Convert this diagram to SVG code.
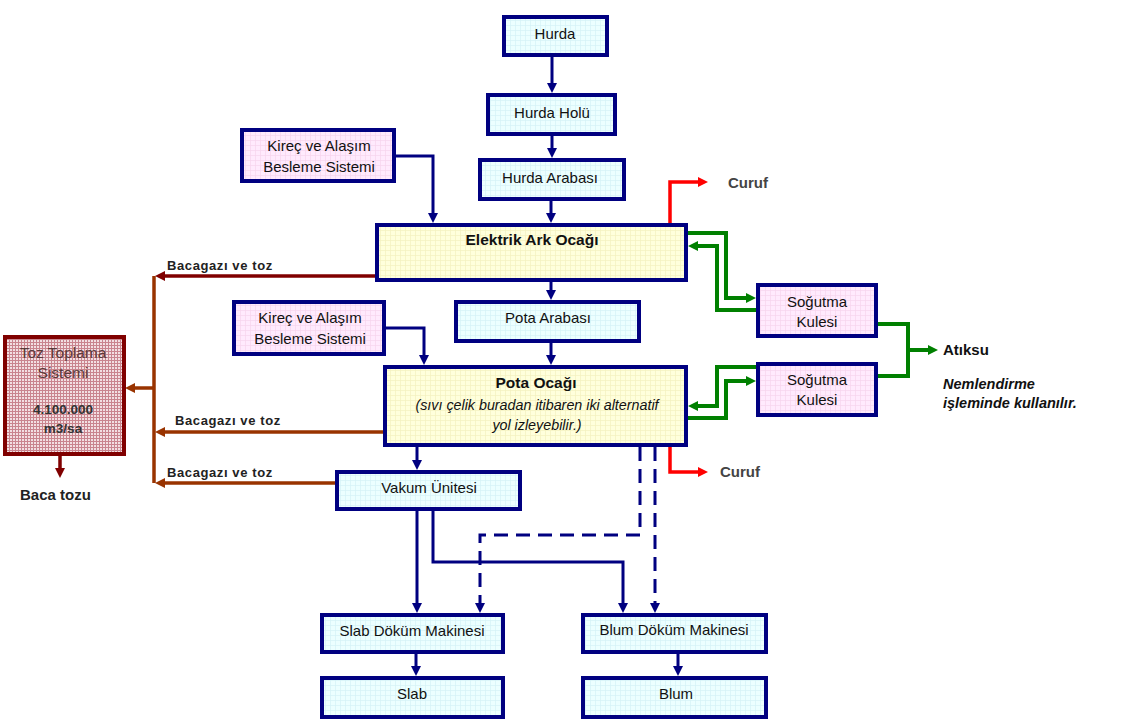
<svg xmlns="http://www.w3.org/2000/svg" width="1121" height="720" viewBox="0 0 1121 720">
<defs>
<pattern id="pc" width="5" height="5" patternUnits="userSpaceOnUse"><rect width="5" height="5" fill="#ecffff"/><path d="M0,0.5H5M0.5,0V5" stroke="#d6f2f6" stroke-width="0.7"/></pattern>
<pattern id="pp" width="5" height="5" patternUnits="userSpaceOnUse"><rect width="5" height="5" fill="#ffeafd"/><path d="M0,0.5H5M0.5,0V5" stroke="#f6d4ee" stroke-width="0.7"/></pattern>
<pattern id="py" width="5" height="5" patternUnits="userSpaceOnUse"><rect width="5" height="5" fill="#ffffdc"/><path d="M0,0.5H5M0.5,0V5" stroke="#f3f1c0" stroke-width="0.7"/></pattern>
<pattern id="pt" width="3" height="3" patternUnits="userSpaceOnUse"><rect width="3" height="3" fill="#f2dfe2"/><path d="M0,0.5H3M0.5,0V3" stroke="#c9848e" stroke-width="1"/></pattern>
<marker id="an" viewBox="0 0 10 10" refX="4" refY="5" markerWidth="10" markerHeight="10" markerUnits="userSpaceOnUse" orient="auto"><path d="M0,0L10,5L0,10z" fill="#000080"/></marker>
<marker id="ag" viewBox="0 0 10 10" refX="4" refY="5" markerWidth="10" markerHeight="10" markerUnits="userSpaceOnUse" orient="auto"><path d="M0,0L10,5L0,10z" fill="#008000"/></marker>
<marker id="ar" viewBox="0 0 10 10" refX="4" refY="5" markerWidth="10" markerHeight="10" markerUnits="userSpaceOnUse" orient="auto"><path d="M0,0L10,5L0,10z" fill="#ff0000"/></marker>
<marker id="ab" viewBox="0 0 10 10" refX="4" refY="5" markerWidth="10" markerHeight="10" markerUnits="userSpaceOnUse" orient="auto"><path d="M0,0L10,5L0,10z" fill="#993300"/></marker>
<marker id="am" viewBox="0 0 10 10" refX="4" refY="5" markerWidth="10" markerHeight="10" markerUnits="userSpaceOnUse" orient="auto"><path d="M0,0L10,5L0,10z" fill="#800000"/></marker>
</defs>
<style>
.bx{stroke:#000080;stroke-width:4}
.c{fill:url(#pc)}.p{fill:url(#pp)}.y{fill:url(#py)}
text{font-family:"Liberation Sans",Arial,sans-serif;fill:#111}
.t{font-size:15px;text-anchor:middle}
.tb{font-size:15.5px;font-weight:bold;text-anchor:middle}
.ti{font-size:14.3px;font-style:italic;text-anchor:middle}
.lb{font-size:13px;font-weight:bold;letter-spacing:0.6px;fill:#222}
.cu{font-size:15px;font-weight:bold;fill:#444}
.nv{fill:none;stroke:#000080;stroke-width:3}
.gr{fill:none;stroke:#008000;stroke-width:4}
.rd{fill:none;stroke:#ff0000;stroke-width:3.5}
.br{fill:none;stroke:#993300;stroke-width:3.5}
.mr{fill:none;stroke:#800000;stroke-width:3.5}
</style>
<g id="connectors">
<path class="nv" d="M552,57V87" marker-end="url(#an)"/>
<path class="nv" d="M552,136V152" marker-end="url(#an)"/>
<path class="nv" d="M551,201V217" marker-end="url(#an)"/>
<path class="nv" d="M396,156H433V217" marker-end="url(#an)"/>
<path class="nv" d="M551,282V294" marker-end="url(#an)"/>
<path class="nv" d="M551,343V359" marker-end="url(#an)"/>
<path class="nv" d="M386,328H424V359" marker-end="url(#an)"/>
<path class="nv" d="M417,447V464" marker-end="url(#an)"/>
<path class="nv" d="M417,511V607" marker-end="url(#an)"/>
<path class="nv" d="M433,511V562H623V607" marker-end="url(#an)"/>
<path class="nv" d="M640,447V535H480V607" stroke-dasharray="14 8" marker-end="url(#an)"/>
<path class="nv" d="M655,447V607" stroke-dasharray="14 8" marker-end="url(#an)"/>
<path class="nv" d="M416,654V670" marker-end="url(#an)"/>
<path class="nv" d="M678,654V670" marker-end="url(#an)"/>
<path class="gr" d="M688,233H726V298H750" marker-end="url(#ag)"/>
<path class="gr" d="M756,310H717V246H694" marker-end="url(#ag)"/>
<path class="gr" d="M878,324H908V376H878"/>
<path class="gr" d="M908,350H932" marker-end="url(#ag)"/>
<path class="gr" d="M756,367H717V406H694" marker-end="url(#ag)"/>
<path class="gr" d="M688,418H726V381H750" marker-end="url(#ag)"/>
<path class="rd" d="M670,223V182H702" marker-end="url(#ar)"/>
<path class="rd" d="M670,447V472H702" marker-end="url(#ar)"/>
<path class="mr" d="M375,276H161" marker-end="url(#am)"/>
<path class="br" d="M154,276V483"/>
<path class="br" d="M383,432H161" marker-end="url(#ab)"/>
<path class="br" d="M335,483H161" marker-end="url(#ab)"/>
<path class="br" d="M154,388H131" marker-end="url(#ab)"/>
<path class="mr" d="M60,456V472" marker-end="url(#am)"/>
</g>
<g id="hurda"><rect class="bx c" x="504" y="17" width="103" height="38"/><text class="t" x="555" y="39">Hurda</text></g>
<g id="hurda-holu"><rect class="bx c" x="488" y="95" width="127" height="39"/><text class="t" x="552" y="118">Hurda Holü</text></g>
<g id="hurda-arabasi"><rect class="bx c" x="480" y="160" width="144" height="39"/><text class="t" x="550" y="183">Hurda Arabası</text></g>
<g id="kirec1"><rect class="bx p" x="242" y="130" width="152" height="51"/><text class="t" x="319" y="151">Kireç ve Alaşım</text><text class="t" x="319" y="172">Besleme Sistemi</text></g>
<g id="eaf"><rect class="bx y" x="377" y="225" width="309" height="55"/><text class="tb" x="532" y="245">Elektrik Ark Ocağı</text></g>
<g id="pota-arabasi"><rect class="bx c" x="456" y="302" width="183" height="39"/><text class="t" x="548" y="323">Pota Arabası</text></g>
<g id="kirec2"><rect class="bx p" x="234" y="302" width="150" height="52"/><text class="t" x="310" y="323">Kireç ve Alaşım</text><text class="t" x="310" y="344">Besleme Sistemi</text></g>
<g id="pota-ocagi"><rect class="bx y" x="385" y="367" width="301" height="78"/><text class="tb" x="536" y="388">Pota Ocağı</text><text class="ti" x="537" y="410">(sıvı çelik buradan itibaren iki alternatif</text><text class="ti" x="537" y="430">yol izleyebilir.)</text></g>
<g id="vakum"><rect class="bx c" x="337" y="472" width="183" height="37"/><text class="t" x="429" y="493">Vakum Ünitesi</text></g>
<g id="slab-dm"><rect class="bx c" x="322" y="615" width="181" height="37"/><text class="t" x="412" y="636">Slab Döküm Makinesi</text></g>
<g id="slab"><rect class="bx c" x="322" y="678" width="181" height="39"/><text class="t" x="412" y="699">Slab</text></g>
<g id="blum-dm"><rect class="bx c" x="583" y="615" width="183" height="37"/><text class="t" x="674" y="635">Blum Döküm Makinesi</text></g>
<g id="blum"><rect class="bx c" x="583" y="678" width="183" height="39"/><text class="t" x="676" y="699">Blum</text></g>
<g id="sogutma1"><rect class="bx p" x="758" y="285" width="118" height="51"/><text class="t" x="817" y="307">Soğutma</text><text class="t" x="817" y="327">Kulesi</text></g>
<g id="sogutma2"><rect class="bx p" x="758" y="364" width="118" height="51"/><text class="t" x="817" y="385">Soğutma</text><text class="t" x="817" y="405">Kulesi</text></g>
<g id="toz"><rect x="5" y="337" width="119" height="117" fill="url(#pt)" stroke="#800000" stroke-width="4"/><text class="t" x="63" y="358" style="font-size:15.5px;fill:#5a3a3a">Toz Toplama</text><text class="t" x="63" y="378" style="font-size:15.5px;fill:#5a3a3a">Sistemi</text><text class="tb" x="63" y="414" style="font-size:13.5px;fill:#333">4.100.000</text><text class="tb" x="63" y="433" style="font-size:13.5px;fill:#333">m3/sa</text></g>
<g id="labels">
<text class="lb" x="167" y="270">Bacagazı ve toz</text>
<text class="lb" x="175" y="425">Bacagazı ve toz</text>
<text class="lb" x="167" y="477">Bacagazı ve toz</text>
<text style="font-size:15px;font-weight:bold;fill:#222" x="20" y="500">Baca tozu</text>
<text class="cu" x="728" y="188">Curuf</text>
<text class="cu" x="720" y="477">Curuf</text>
<text style="font-size:15px;font-weight:bold;fill:#111" x="943" y="355">Atıksu</text>
<text style="font-size:14.5px;font-weight:bold;font-style:italic;fill:#111" x="943" y="389">Nemlendirme</text>
<text style="font-size:14.5px;font-weight:bold;font-style:italic;fill:#111" x="943" y="408">işleminde kullanılır.</text>
</g>
</svg>
